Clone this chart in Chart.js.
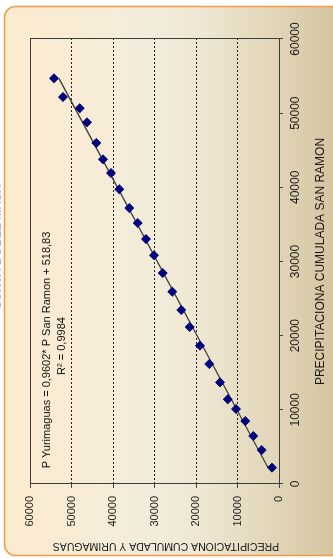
<!DOCTYPE html>
<html>
<head>
<meta charset="utf-8">
<title>Curva doble masa</title>
<script src="https://cdn.jsdelivr.net/npm/chart.js@4.4.1/dist/chart.umd.min.js"></script>
<style>
  html, body { margin: 0; padding: 0; background: #fff; width: 333px; height: 558px; overflow: hidden; }
  /* the chart is laid out landscape and turned a quarter turn */
  #wrap { position: absolute; left: 0; top: 0; width: 558px; height: 333px;
          transform-origin: 0 0; transform: translate(0, 558px) rotate(-90deg); }
  canvas { display: block; }
</style>
</head>
<body>
<div id="wrap"><canvas id="c" width="558" height="333"></canvas></div>
<script>
// Precipitación acumulada (mm) de San Ramón frente a Yurimaguas
const sanRamon   = [2200, 4580, 6470, 8490, 10110, 11420, 13710, 16180, 18650, 21170, 23460, 25930, 28450,
                    30840, 33030, 35190, 37210, 39740, 41930, 43780, 45980, 48770, 50660, 52180, 54700];
const yurimaguas = [1690, 4170, 6190, 8120, 10360, 12360, 14220, 16800, 19040, 21520, 23540, 25710, 28020,
                    30120, 32050, 34050, 36070, 38480, 40480, 42410, 44020, 46260, 48020, 52050, 54220];
const axisTicks  = [0, 10000, 20000, 30000, 40000, 50000, 60000];

// recta de ajuste lineal
const trendSlope = 0.9602;
const trendIntercept = 518.83;
const rSquared = 0.9984;

const chartTitle = 'CURVA DOBLE MASA';
const xTitle = 'PRECIPITACIONA CUMULADA SAN RAMON';
const yTitle = 'PRECIPITACIONA CUMULADA Y URIMAGUAS';

const points = sanRamon.map((x, i) => ({ x: x, y: yurimaguas[i] }));
const xMin = Math.min(...sanRamon), xMax = Math.max(...sanRamon);
const trend = [xMin, xMax].map(x => ({ x: x, y: trendSlope * x + trendIntercept }));

const fmt = (v, d) => v.toFixed(d).replace('.', ',');
const eqLine1 = 'P Yurimaguas = ' + fmt(trendSlope, 4) + '* P San Ramon + ' + fmt(trendIntercept, 2);
const eqLine2 = 'R\u00B2 = ' + fmt(rSquared, 4);

Chart.defaults.font.family = "'Liberation Sans', Arial, sans-serif";
Chart.defaults.color = '#1a1a1a';

const panel = {
  id: 'panel',
  beforeDraw(chart) {
    const { ctx, width, height } = chart;
    ctx.save();
    ctx.fillStyle = '#ffffff';
    ctx.fillRect(0, 0, width, height);
    const g = ctx.createLinearGradient(0, 4, 0, 345);
    g.addColorStop(0, '#fcebcf');
    g.addColorStop(0.42, '#f3ecdb');
    g.addColorStop(0.58, '#efe7d3');
    g.addColorStop(0.8, '#e1d5b8');
    g.addColorStop(1, '#d2c29c');
    ctx.beginPath();
    ctx.roundRect(2.5, 4.5, 549, 345, 11);
    ctx.fillStyle = g;
    ctx.fill();
    ctx.strokeStyle = '#f29a48';
    ctx.lineWidth = 1.5;
    ctx.stroke();
    // chart heading, sitting above the panel
    ctx.font = 'bold 12px "Liberation Sans", Arial, sans-serif';
    ctx.fillStyle = '#b8b8c0';
    ctx.textAlign = 'center';
    ctx.textBaseline = 'alphabetic';
    ctx.fillText(chartTitle, 311, 0.8);
    ctx.restore();
  },
  beforeDatasetsDraw(chart) {
    const { ctx, chartArea: a } = chart;
    ctx.save();
    ctx.strokeStyle = '#3c3c3c';
    ctx.lineWidth = 1;
    ctx.strokeRect(Math.round(a.left) + 0.5, Math.round(a.top) + 0.5,
                   Math.round(a.right - a.left), Math.round(a.bottom - a.top));
    ctx.restore();
  },
  afterDatasetsDraw(chart) {
    const { ctx } = chart;
    ctx.save();
    ctx.font = '11px "Liberation Sans", Arial, sans-serif';
    ctx.fillStyle = '#111';
    ctx.textAlign = 'center';
    ctx.textBaseline = 'middle';
    ctx.fillText(eqLine1, 208, 47);
    ctx.fillText(eqLine2, 212, 62);
    ctx.restore();
  }
};

const plain = v => String(v);

new Chart(document.getElementById('c'), {
  type: 'scatter',
  data: {
    datasets: [
      {
        type: 'line',
        label: 'Lineal',
        data: trend,
        borderColor: '#3a3a34',
        borderWidth: 1.2,
        pointRadius: 0,
        fill: false,
        order: 2
      },
      {
        label: 'Precipitación acumulada',
        data: points,
        pointStyle: 'rectRot',
        pointRadius: 4.5,
        pointHoverRadius: 4.5,
        backgroundColor: '#000080',
        borderColor: '#00006a',
        borderWidth: 1,
        order: 1
      }
    ]
  },
  plugins: [panel],
  options: {
    responsive: false,
    animation: false,
    layout: { padding: { left: 0, right: 39, top: 30, bottom: 0 } },
    plugins: { legend: { display: false }, tooltip: { enabled: false } },
    scales: {
      x: {
        type: 'linear',
        position: 'bottom',
        min: 0, max: 60000,
        afterBuildTicks: s => { s.ticks = axisTicks.map(v => ({ value: v })); },
        afterFit: s => { s.height = 54; },
        ticks: { font: { size: 12 }, padding: 5, maxRotation: 0, color: '#1a1a1a', callback: plain },
        grid: { drawOnChartArea: false, drawTicks: true, tickLength: 4, color: '#444', tickColor: '#444' },
        border: { display: false },
        title: { display: true, text: xTitle, font: { size: 12 }, color: '#1a1a1a',
                 padding: { top: 0, bottom: 5 } }
      },
      y: {
        type: 'linear',
        position: 'left',
        min: 0, max: 60000,
        afterBuildTicks: s => { s.ticks = axisTicks.map(v => ({ value: v })); },
        afterFit: s => { s.width = 74; },
        ticks: { font: { size: 11 }, padding: 8, color: '#1a1a1a', callback: plain },
        grid: { color: '#1e1e1e', lineWidth: 1, drawTicks: true, tickLength: 4, tickColor: '#444' },
        border: { display: false, dash: [2, 2] },
        title: { display: true, text: yTitle, align: 'start', font: { size: 10.5 }, color: '#1a1a1a',
                 padding: { top: 6, bottom: 0 } }
      }
    }
  }
});
</script>
</body>
</html>
